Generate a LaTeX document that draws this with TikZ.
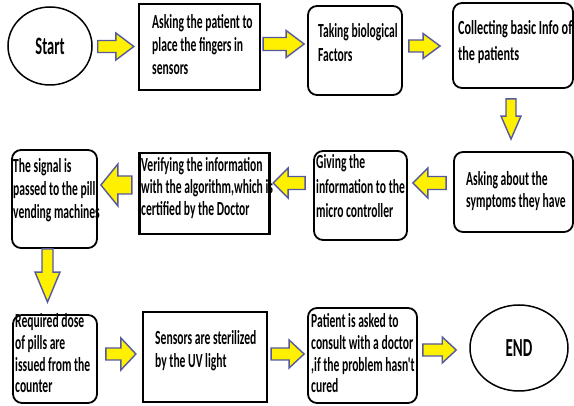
\documentclass[tikz,border=0pt]{standalone}
\usepackage{fontspec}
\newfontfamily\boxfont{Carlito}[FakeStretch=0.58]
\newfontfamily\widefont{Carlito}[FakeStretch=0.61]
\usetikzlibrary{calc,shapes.geometric}
\definecolor{arrowfill}{RGB}{255,240,0}
\definecolor{arrowline}{RGB}{84,88,160}
\newcommand\blockarrow[5]{% tail, tip, shaft half-width, head half-width, head length
  \coordinate (ba-t) at (#1);
  \coordinate (ba-p) at (#2);
  \coordinate (ba-h) at ($(ba-p)!#5pt!(ba-t)$);
  \draw[barrow] ($(ba-t)!#3pt!90:(ba-p)$) -- ($(ba-h)!#3pt!90:(ba-p)$)
    -- ($(ba-h)!#4pt!90:(ba-p)$) -- (ba-p) -- ($(ba-h)!#4pt!-90:(ba-p)$)
    -- ($(ba-h)!#3pt!-90:(ba-p)$) -- ($(ba-t)!#3pt!-90:(ba-p)$) -- cycle;
}
\begin{document}
\begin{tikzpicture}[x=1pt,y=-1pt,
  sqbox/.style={draw, line width=2.2pt, inner sep=0pt},
  rbox/.style={draw, line width=1.8pt, rounded corners=9pt, inner sep=0pt},
  oval/.style={draw, ellipse, line width=1.5pt, inner sep=0pt},
  txt/.style={align=left, inner sep=0pt, anchor=base west,
    font=\boxfont\bfseries\fontsize{20}{23}\selectfont},
  big/.style={inner sep=0pt, font=\boxfont\bfseries\fontsize{25}{28}\selectfont},
  barrow/.style={fill=arrowfill, draw=arrowline, line width=1.4pt, line join=miter}]
\useasboundingbox (0,0) rectangle (574,406);
% --- shapes ---
\node[oval, minimum width=84pt, minimum height=78pt] (start) at (50,46) {};
\node[sqbox, minimum width=121pt, minimum height=86pt] (b1) at (199.5,47) {};
\node[rbox, minimum width=94pt, minimum height=89pt] (b2) at (355,50.5) {};
\node[rbox, minimum width=120pt, minimum height=85pt] (b3) at (513,45.5) {};
\node[rbox, minimum width=119pt, minimum height=80pt] (b4) at (513.5,192) {};
\node[rbox, minimum width=93pt, minimum height=89pt] (b5) at (360.5,195.5) {};
\node[sqbox, minimum width=130pt, minimum height=81pt] (b6) at (204.5,193.5) {};
\node[rbox, minimum width=85pt, minimum height=98pt] (b7) at (54.5,199) {};
\node[rbox, minimum width=84pt, minimum height=88pt] (b8) at (55,359) {};
\node[sqbox, minimum width=124pt, minimum height=90pt] (b9) at (205,357) {};
\node[rbox, minimum width=109pt, minimum height=95pt] (b10) at (362.5,355.5) {};
\node[oval, minimum width=98pt, minimum height=86pt] (end) at (519,348) {};
% --- texts (anchored at the baseline of their last line) ---
\node[big] (startt) at (start.center) {Start};
\node[big, font=\boxfont\bfseries\fontsize{26}{28}\selectfont] (endt) at (end.center) {END};
\node[txt] (t1) at (152,75) {Asking the patient to\\place the fingers in\\sensors};
\node[txt, font=\boxfont\bfseries\fontsize{20}{24}\selectfont] (t2) at (318,62) {Taking biological\\Factors};
\node[txt, font=\widefont\bfseries\fontsize{20}{26}\selectfont] (t3) at (458,61) {Collecting basic Info of\\the patients};
\node[txt, font=\boxfont\bfseries\fontsize{20}{22}\selectfont] (t4) at (466,208) {Asking about the\\symptoms they have};
\node[txt, font=\boxfont\bfseries\fontsize{20}{24.5}\selectfont] (t5) at (316,218) {Giving the\\information to the\\micro controller};
\node[txt, font=\boxfont\bfseries\fontsize{20}{22}\selectfont] (t6) at (141,216) {Verifying the information\\with the algorithm,which is\\certified by the Doctor};
\node[txt, font=\boxfont\bfseries\fontsize{20}{23}\selectfont] (t7) at (13,219) {The signal is\\passed to the pill\\vending machines};
\node[txt, font=\boxfont\bfseries\fontsize{20}{22}\selectfont] (t8) at (15,393) {Required dose\\of pills are\\issued from the\\counter};
\node[txt] (t9) at (155,368) {Sensors are sterilized\\by the UV light};
\node[txt, font=\boxfont\bfseries\fontsize{20}{22}\selectfont] (t10) at (311,393) {Patient is asked to\\consult with a doctor\\,if the problem hasn't\\cured};
% --- block arrows ---
\blockarrow{$(start.east)+(5,0.5)$}{$(b1.west)+(-4,-0.5)$}{6}{13.5}{18}
\blockarrow{$(b1.east)+(2,-3)$}{$(b2.west)+(-3,-6.5)$}{6.5}{13.5}{18}
\blockarrow{$(b2.east)+(6,-4.5)$}{$(b3.west)+(-12,0.5)$}{6}{12.5}{17}
\blockarrow{$(b3.south)+(-2,10)$}{$(b4.north)+(-2.5,-12)$}{5}{10}{23}
\blockarrow{$(b4.west)+(-7,-9)$}{$(b5.east)+(5,-12.5)$}{6.5}{15}{15}
\blockarrow{$(b5.west)+(-8,-12.5)$}{$(b6.east)+(2.5,-10.5)$}{6.5}{15}{15}
\blockarrow{$(b6.west)+(-6.5,-8.5)$}{$(b7.east)+(3,-14)$}{9}{21}{17}
\blockarrow{$(b7.south)+(-7,0)$}{$(b8.north)+(-7.5,-12)$}{5.5}{12.5}{30}
\blockarrow{$(b8.east)+(8,-5)$}{$(b9.west)+(-6,-3)$}{6}{16}{15}
\blockarrow{$(b9.east)+(3,-3)$}{$(b10.west)+(-3,-1.5)$}{6}{14}{15}
\blockarrow{$(b10.east)+(5,-5.5)$}{$(end.west)+(-13,2)$}{6}{13}{14}
\end{tikzpicture}
\end{document}
